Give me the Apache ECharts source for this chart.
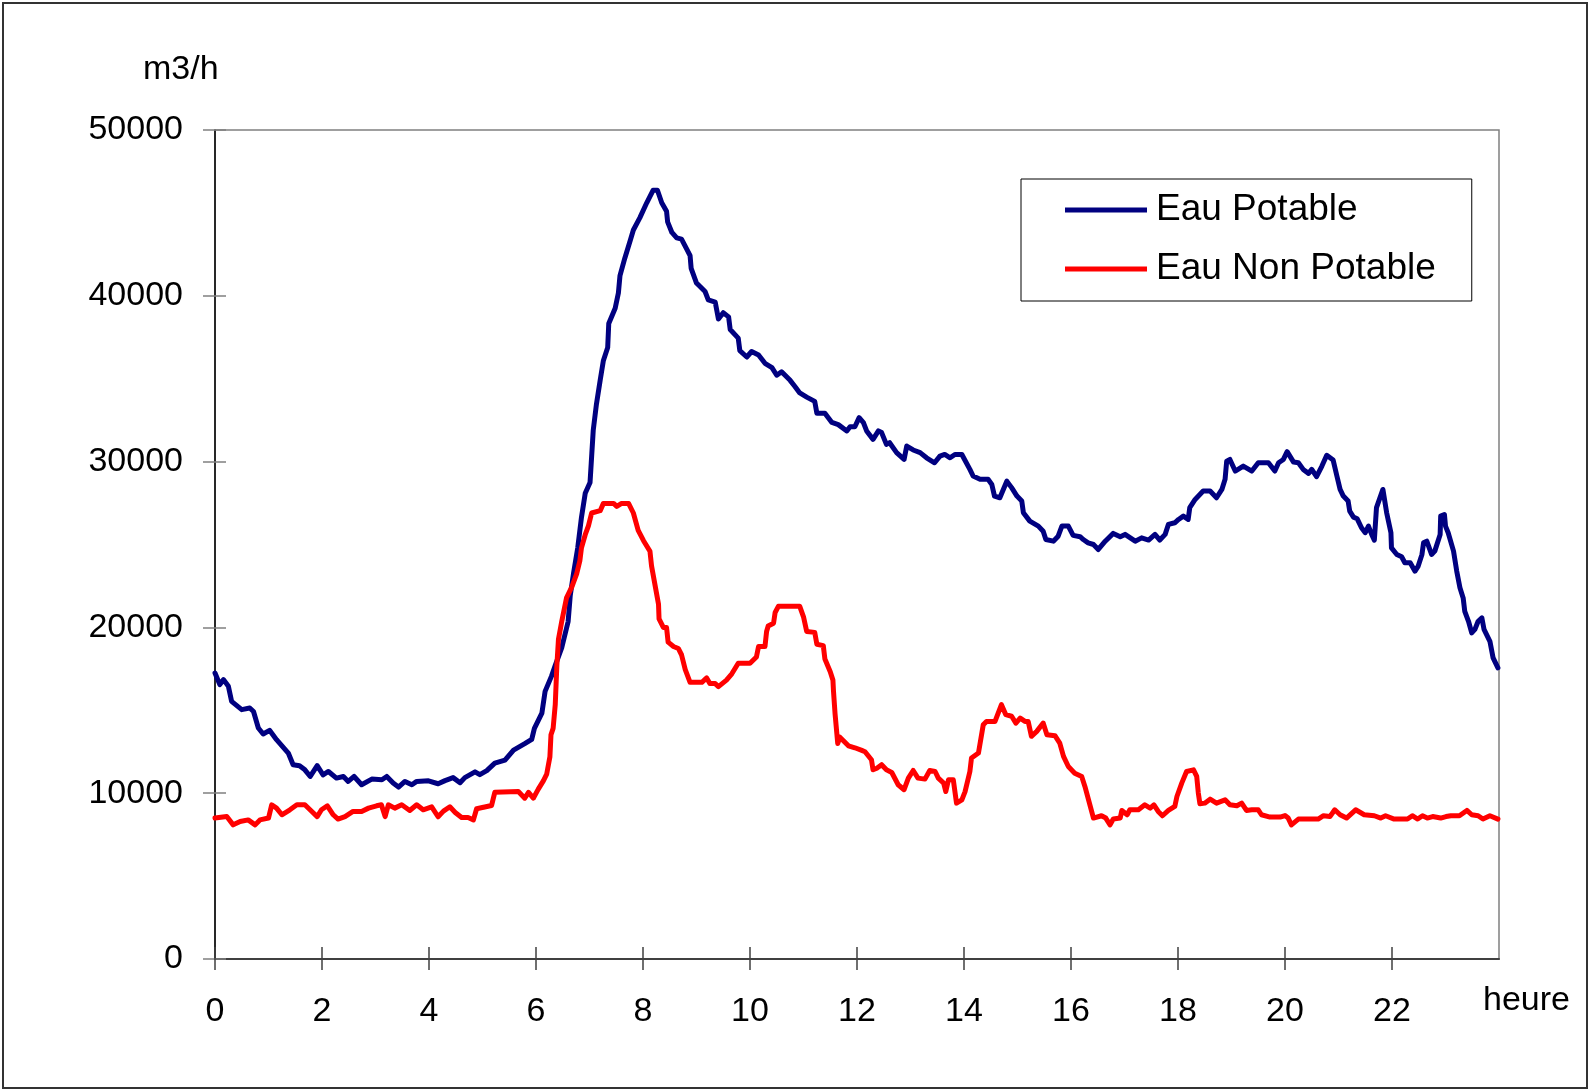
<!DOCTYPE html>
<html>
<head>
<meta charset="utf-8">
<title>Eau Potable / Eau Non Potable</title>
<script src="https://cdn.jsdelivr.net/npm/echarts@6/dist/echarts.min.js"></script>
<style>
  html, body { margin: 0; padding: 0; background: #fff; }
  #main { width: 1590px; height: 1090px; }
</style>
</head>
<body>
<div id="main"></div>
<script>
var potableHours = [
  0.00, 0.09, 0.16, 0.25, 0.31, 0.50, 0.65, 0.72, 0.81, 0.90, 1.02, 1.15, 1.37, 1.46, 1.58, 1.68, 1.78, 1.91,
  2.02, 2.12, 2.27, 2.40, 2.49, 2.60, 2.74, 2.93, 3.12, 3.21, 3.33, 3.43, 3.55, 3.68, 3.77, 3.99,
  4.17, 4.30, 4.45, 4.58, 4.67, 4.86, 4.95, 5.08, 5.23, 5.42, 5.58, 5.79, 5.92, 5.97,
  6.11, 6.17, 6.29, 6.36, 6.48, 6.60, 6.64, 6.70, 6.78, 6.85, 6.92, 7.01, 7.04, 7.07, 7.13, 7.20, 7.26, 7.34,
  7.36, 7.48, 7.54, 7.57, 7.66, 7.76, 7.82, 7.94, 8.07, 8.19, 8.27, 8.35, 8.44, 8.46, 8.54, 8.63, 8.72, 8.82,
  8.88, 8.90, 9.00, 9.16, 9.22, 9.35, 9.41, 9.50, 9.60, 9.63, 9.78, 9.81, 9.94, 10.03, 10.16, 10.28, 10.41,
  10.50, 10.59, 10.75, 10.84, 10.93, 11.06, 11.21, 11.25, 11.40, 11.53, 11.65, 11.81, 11.87, 11.96,
  12.04, 12.12, 12.18, 12.30, 12.40, 12.46, 12.55, 12.61, 12.74, 12.88, 12.93, 13.05, 13.18, 13.30, 13.45,
  13.55, 13.64, 13.74, 13.83, 13.96, 14.11, 14.17, 14.30, 14.45, 14.52, 14.57, 14.67, 14.80, 14.89, 14.99,
  15.08, 15.11, 15.23, 15.39, 15.48, 15.53, 15.67, 15.76, 15.83, 15.95, 16.04, 16.17, 16.23, 16.32, 16.42,
  16.51, 16.64, 16.79, 16.92, 17.01, 17.20, 17.32, 17.45, 17.57, 17.66, 17.76, 17.82, 17.94, 18.01, 18.10,
  18.19, 18.22, 18.32, 18.47, 18.60, 18.72, 18.82, 18.88, 18.91, 18.97, 19.07, 19.22, 19.38, 19.50, 19.69,
  19.81, 19.88, 19.97, 20.04, 20.16, 20.25, 20.34, 20.44, 20.50, 20.59, 20.69, 20.78, 20.90, 20.97, 21.03,
  21.09, 21.18, 21.21, 21.28, 21.35, 21.43, 21.50, 21.56, 21.62, 21.67, 21.71, 21.83, 21.90, 21.98, 21.99,
  22.09, 22.18, 22.24, 22.34, 22.43, 22.49, 22.56, 22.59, 22.65, 22.74, 22.80, 22.90, 22.91, 22.98, 23.00,
  23.05, 23.15, 23.21, 23.27, 23.33, 23.36, 23.43, 23.49, 23.55, 23.61, 23.68, 23.72, 23.83, 23.89, 23.98
];
var potable = [
  17250, 16550, 16850, 16450, 15540, 15040, 15140, 14930, 13930, 13570, 13790, 13230, 12420, 11720, 11660, 11410, 11010, 11660,
  11110, 11310, 10910, 11010, 10710, 11010, 10510, 10850, 10810, 11010, 10610, 10370, 10710, 10510, 10710, 10750,
  10570, 10760, 10940, 10630, 10940, 11290, 11120, 11360, 11810, 11990, 12600, 12990, 13250, 13910,
  14830, 16140, 17060, 17710, 18760, 20340, 21920, 23230, 24800, 26640, 28090, 28740, 30320, 31890, 33470, 34910, 36100, 36880,
  38330, 39250, 40170, 41220, 42270, 43320, 43970, 44700, 45610, 46370, 46370, 45610, 45100, 44460, 43820, 43490, 43420, 42800,
  42420, 41660, 40770, 40260, 39750, 39620, 38600, 38980, 38730, 37970, 37450, 36690, 36310, 36640, 36430, 35930, 35670,
  35210, 35420, 34900, 34530, 34140, 33890, 33630, 32920, 32920, 32360, 32230, 31850, 32100, 32100,
  32650, 32350, 31850, 31340, 31850, 31750, 31040, 31140, 30540, 30130, 30940, 30700, 30540, 30230, 29930,
  30330, 30430, 30230, 30430, 30430, 29530, 29130, 28930, 28930, 28620, 27920, 27820, 28820, 28430, 27920,
  27620, 26920, 26410, 26110, 25800, 25300, 25200, 25500, 26110, 26110, 25550, 25470, 25300, 25100, 25000,
  24700, 25200, 25670, 25470, 25610, 25200, 25400, 25270, 25610, 25270, 25610, 26210, 26310, 26510, 26710,
  26510, 27220, 27720, 28220, 28220, 27820, 28320, 28930, 30030, 30130, 29430, 29730, 29430, 29930, 29930,
  29430, 29930, 30130, 30600, 29970, 29930, 29530, 29290, 29530, 29090, 29730, 30380, 30090, 29130, 28320,
  27920, 27620, 27010, 26650, 26550, 26010, 25710, 26110, 25610, 25260, 27220, 28320, 26920, 25710, 24800,
  24400, 24260, 23900, 23900, 23390, 23700, 24400, 25100, 25200, 24400, 24600, 25610, 26710, 26810, 26110,
  25710, 24600, 23390, 22390, 21780, 20970, 20370, 19670, 19880, 20370, 20570, 19880, 19160, 18160, 17560
];

var nonPotableHours = [
  0.00, 0.22, 0.34, 0.47, 0.62, 0.75, 0.84, 1.00, 1.06, 1.15, 1.25, 1.40, 1.53, 1.68, 1.81, 1.91, 1.99,
  2.10, 2.21, 2.30, 2.43, 2.58, 2.74, 2.87, 3.02, 3.11, 3.18, 3.24, 3.36, 3.49, 3.64, 3.77, 3.89,
  4.05, 4.17, 4.27, 4.39, 4.49, 4.61, 4.73, 4.83, 4.89, 5.17, 5.23, 5.67, 5.79, 5.86, 5.95,
  6.04, 6.14, 6.20, 6.26, 6.28, 6.32, 6.36, 6.39, 6.42, 6.48, 6.57, 6.67, 6.76, 6.82, 6.85, 6.92, 6.98,
  7.04, 7.20, 7.26, 7.45, 7.51, 7.60, 7.73, 7.82, 7.91, 8.01, 8.13, 8.16, 8.29, 8.30, 8.38, 8.44, 8.47,
  8.57, 8.66, 8.72, 8.79, 8.88, 9.10, 9.19, 9.25, 9.35, 9.41, 9.56, 9.66, 9.78, 10.00, 10.12, 10.16,
  10.28, 10.31, 10.34, 10.44, 10.47, 10.53, 10.93, 11.00, 11.06, 11.21, 11.25, 11.37, 11.40, 11.50,
  11.55, 11.56, 11.59, 11.64, 11.68, 11.84, 11.96, 12.09, 12.15, 12.27, 12.30, 12.37, 12.46, 12.55,
  12.65, 12.77, 12.88, 12.96, 13.05, 13.14, 13.27, 13.36, 13.46, 13.52, 13.62, 13.66, 13.71, 13.80,
  13.86, 13.96, 14.02, 14.11, 14.14, 14.27, 14.36, 14.42, 14.58, 14.70, 14.78, 14.89, 14.97, 15.05,
  15.14, 15.20, 15.26, 15.36, 15.48, 15.55, 15.70, 15.79, 15.86, 15.95, 16.07, 16.20, 16.26, 16.42,
  16.57, 16.65, 16.73, 16.79, 16.92, 16.95, 17.05, 17.10, 17.26, 17.38, 17.48, 17.55, 17.63, 17.71,
  17.82, 17.94, 17.98, 18.07, 18.16, 18.29, 18.35, 18.38, 18.41, 18.50, 18.60, 18.72, 18.88, 18.97,
  19.10, 19.19, 19.28, 19.38, 19.50, 19.56, 19.72, 19.91, 20.00, 20.06, 20.12, 20.25, 20.62, 20.72,
  20.84, 20.93, 21.03, 21.15, 21.32, 21.48, 21.67, 21.79, 21.88, 22.04, 22.29, 22.38, 22.48, 22.57,
  22.66, 22.76, 22.91, 23.01, 23.10, 23.26, 23.40, 23.49, 23.61, 23.70, 23.83, 23.98
];
var nonPotable = [
  8500, 8590, 8090, 8290, 8390, 8090, 8390, 8500, 9300, 9100, 8700, 9000, 9300, 9300, 8900, 8590, 9000,
  9240, 8700, 8440, 8590, 8900, 8900, 9100, 9240, 9300, 8590, 9300, 9100, 9300, 8960, 9300, 9000,
  9180, 8580, 8920, 9180, 8840, 8530, 8530, 8390, 9060, 9260, 10050, 10100, 9700, 10050, 9700,
  10230, 10760, 11150, 12200, 13520, 13910, 15350, 17710, 19290, 20340, 21780, 22440, 23230, 24020, 24800, 25590, 26120,
  26900, 27040, 27480, 27480, 27300, 27480, 27480, 26900, 25850, 25230, 24590, 23700, 21400, 20510, 20000, 20000, 19110,
  18850, 18730, 18350, 17450, 16690, 16690, 16950, 16610, 16610, 16430, 16820, 17200, 17840, 17840, 18220, 18850,
  18850, 19750, 20080, 20250, 20900, 21270, 21270, 20640, 19750, 19700, 18980, 18900, 18090, 17330,
  16820, 16180, 14780, 13000, 13380, 12860, 12740, 12580, 12500, 12020, 11410, 11510, 11720, 11410,
  11250, 10510, 10210, 10910, 11370, 10910, 10850, 11370, 11310, 10910, 10610, 10100, 10810, 10810,
  9400, 9600, 10100, 11310, 12120, 12420, 14130, 14330, 14330, 15340, 14740, 14640, 14230, 14530,
  14330, 14330, 13430, 13730, 14230, 13530, 13470, 13020, 12220, 11610, 11210, 11010, 10410, 8500,
  8640, 8500, 8090, 8440, 8500, 8960, 8700, 9000, 9000, 9300, 9100, 9300, 8900, 8640,
  8960, 9200, 9800, 10610, 11310, 11410, 11010, 10010, 9360, 9400, 9640, 9400, 9600, 9300,
  9240, 9400, 8960, 9000, 9000, 8700, 8560, 8560, 8650, 8500, 8090, 8440, 8440, 8640,
  8590, 9000, 8700, 8500, 9000, 8700, 8640, 8500, 8640, 8440, 8440, 8640, 8440, 8640,
  8500, 8590, 8500, 8590, 8640, 8640, 8960, 8700, 8640, 8440, 8640, 8440
];

var hourTicks = [0, 2, 4, 6, 8, 10, 12, 14, 16, 18, 20, 22];

var FONT = '"Liberation Sans", Arial, Helvetica, sans-serif';

function zip(xs, ys) {
  return xs.map(function (x, i) { return [x, ys[i]]; });
}

var myChart = echarts.init(document.getElementById('main'), null, { renderer: 'canvas' });

var option = {
  animation: false,
  backgroundColor: '#ffffff',
  textStyle: { fontFamily: FONT },
  grid: {
    left: 215,
    top: 130,
    width: 1284,
    height: 829,
    show: true,
    borderColor: '#808080',
    borderWidth: 1.5,
    backgroundColor: 'transparent',
    containLabel: false,
    outerBoundsMode: 'none'
  },
  legend: {
    orient: 'vertical',
    left: 1021,
    top: 179,
    padding: [11, 36, 12, 44],
    itemGap: 19,
    itemWidth: 82,
    itemHeight: 5,
    icon: 'rect',
    backgroundColor: '#ffffff',
    borderColor: '#000000',
    borderWidth: 1,
    borderRadius: 0,
    selectedMode: false,
    textStyle: {
      fontFamily: FONT,
      fontSize: 37,
      lineHeight: 40,
      color: '#000000',
      padding: [0, 0, 0, 4]
    },
    data: ['Eau Potable', 'Eau Non Potable']
  },
  xAxis: [
    {
      type: 'value',
      position: 'bottom',
      min: 0,
      max: 24,
      interval: 2,
      splitLine: { show: false },
      axisLine: { show: true, onZero: false, lineStyle: { color: '#404040', width: 2 } },
      axisTick: {
        show: true, inside: false, length: 11, customValues: hourTicks,
        lineStyle: { color: '#404040', width: 1.5 }
      },
      axisLabel: {
        margin: 36,
        fontFamily: FONT,
        fontSize: 34,
        color: '#000000',
        customValues: hourTicks,
        formatter: function (v) { return hourTicks.indexOf(v) >= 0 ? String(v) : ''; }
      }
    },
    {
      type: 'value',
      position: 'bottom',
      min: 0,
      max: 24,
      interval: 2,
      splitLine: { show: false },
      axisLine: { show: false, onZero: false },
      axisTick: {
        show: true, inside: true, length: 12, customValues: hourTicks,
        lineStyle: { color: '#404040', width: 1.5 }
      },
      axisLabel: { show: false }
    }
  ],
  yAxis: [
    {
      type: 'value',
      position: 'left',
      min: 0,
      max: 50000,
      interval: 10000,
      splitLine: { show: false },
      axisLine: { show: true, onZero: false, lineStyle: { color: '#000000', width: 1.5 } },
      axisTick: { show: true, inside: false, length: 12, lineStyle: { color: '#808080', width: 1.5 } },
      axisLabel: {
        margin: 32,
        fontFamily: FONT,
        fontSize: 34,
        color: '#000000',
        formatter: function (v) { return String(v); }
      }
    },
    {
      type: 'value',
      position: 'left',
      min: 0,
      max: 50000,
      interval: 10000,
      splitLine: { show: false },
      axisLine: { show: false, onZero: false },
      axisTick: { show: true, inside: true, length: 11, lineStyle: { color: '#808080', width: 1.5 } },
      axisLabel: { show: false }
    }
  ],
  graphic: [
    {
      type: 'rect',
      shape: { x: 3, y: 3, width: 1584, height: 1085 },
      style: { fill: 'none', stroke: '#333333', lineWidth: 2 },
      silent: true,
      z: 0
    },
    {
      type: 'text',
      x: 143,
      y: 70,
      style: { text: 'm3/h', font: '34px ' + FONT, fill: '#000000', verticalAlign: 'middle' }
    },
    {
      type: 'text',
      x: 1483,
      y: 1001,
      style: { text: 'heure', font: '34px ' + FONT, fill: '#000000', verticalAlign: 'middle' }
    }
  ],
  series: [
    {
      name: 'Eau Potable',
      type: 'line',
      xAxisIndex: 0,
      yAxisIndex: 0,
      data: zip(potableHours, potable),
      symbol: 'none',
      color: '#000080',
      lineStyle: { color: '#000080', width: 5, cap: 'round', join: 'round' },
      z: 3
    },
    {
      name: 'Eau Non Potable',
      type: 'line',
      xAxisIndex: 0,
      yAxisIndex: 0,
      data: zip(nonPotableHours, nonPotable),
      symbol: 'none',
      color: '#ff0000',
      lineStyle: { color: '#ff0000', width: 5, cap: 'round', join: 'round' },
      z: 4
    }
  ]
};

option && myChart.setOption(option);

window.addEventListener('resize', function () {
  myChart && myChart.resize();
});
</script>
</body>
</html>
